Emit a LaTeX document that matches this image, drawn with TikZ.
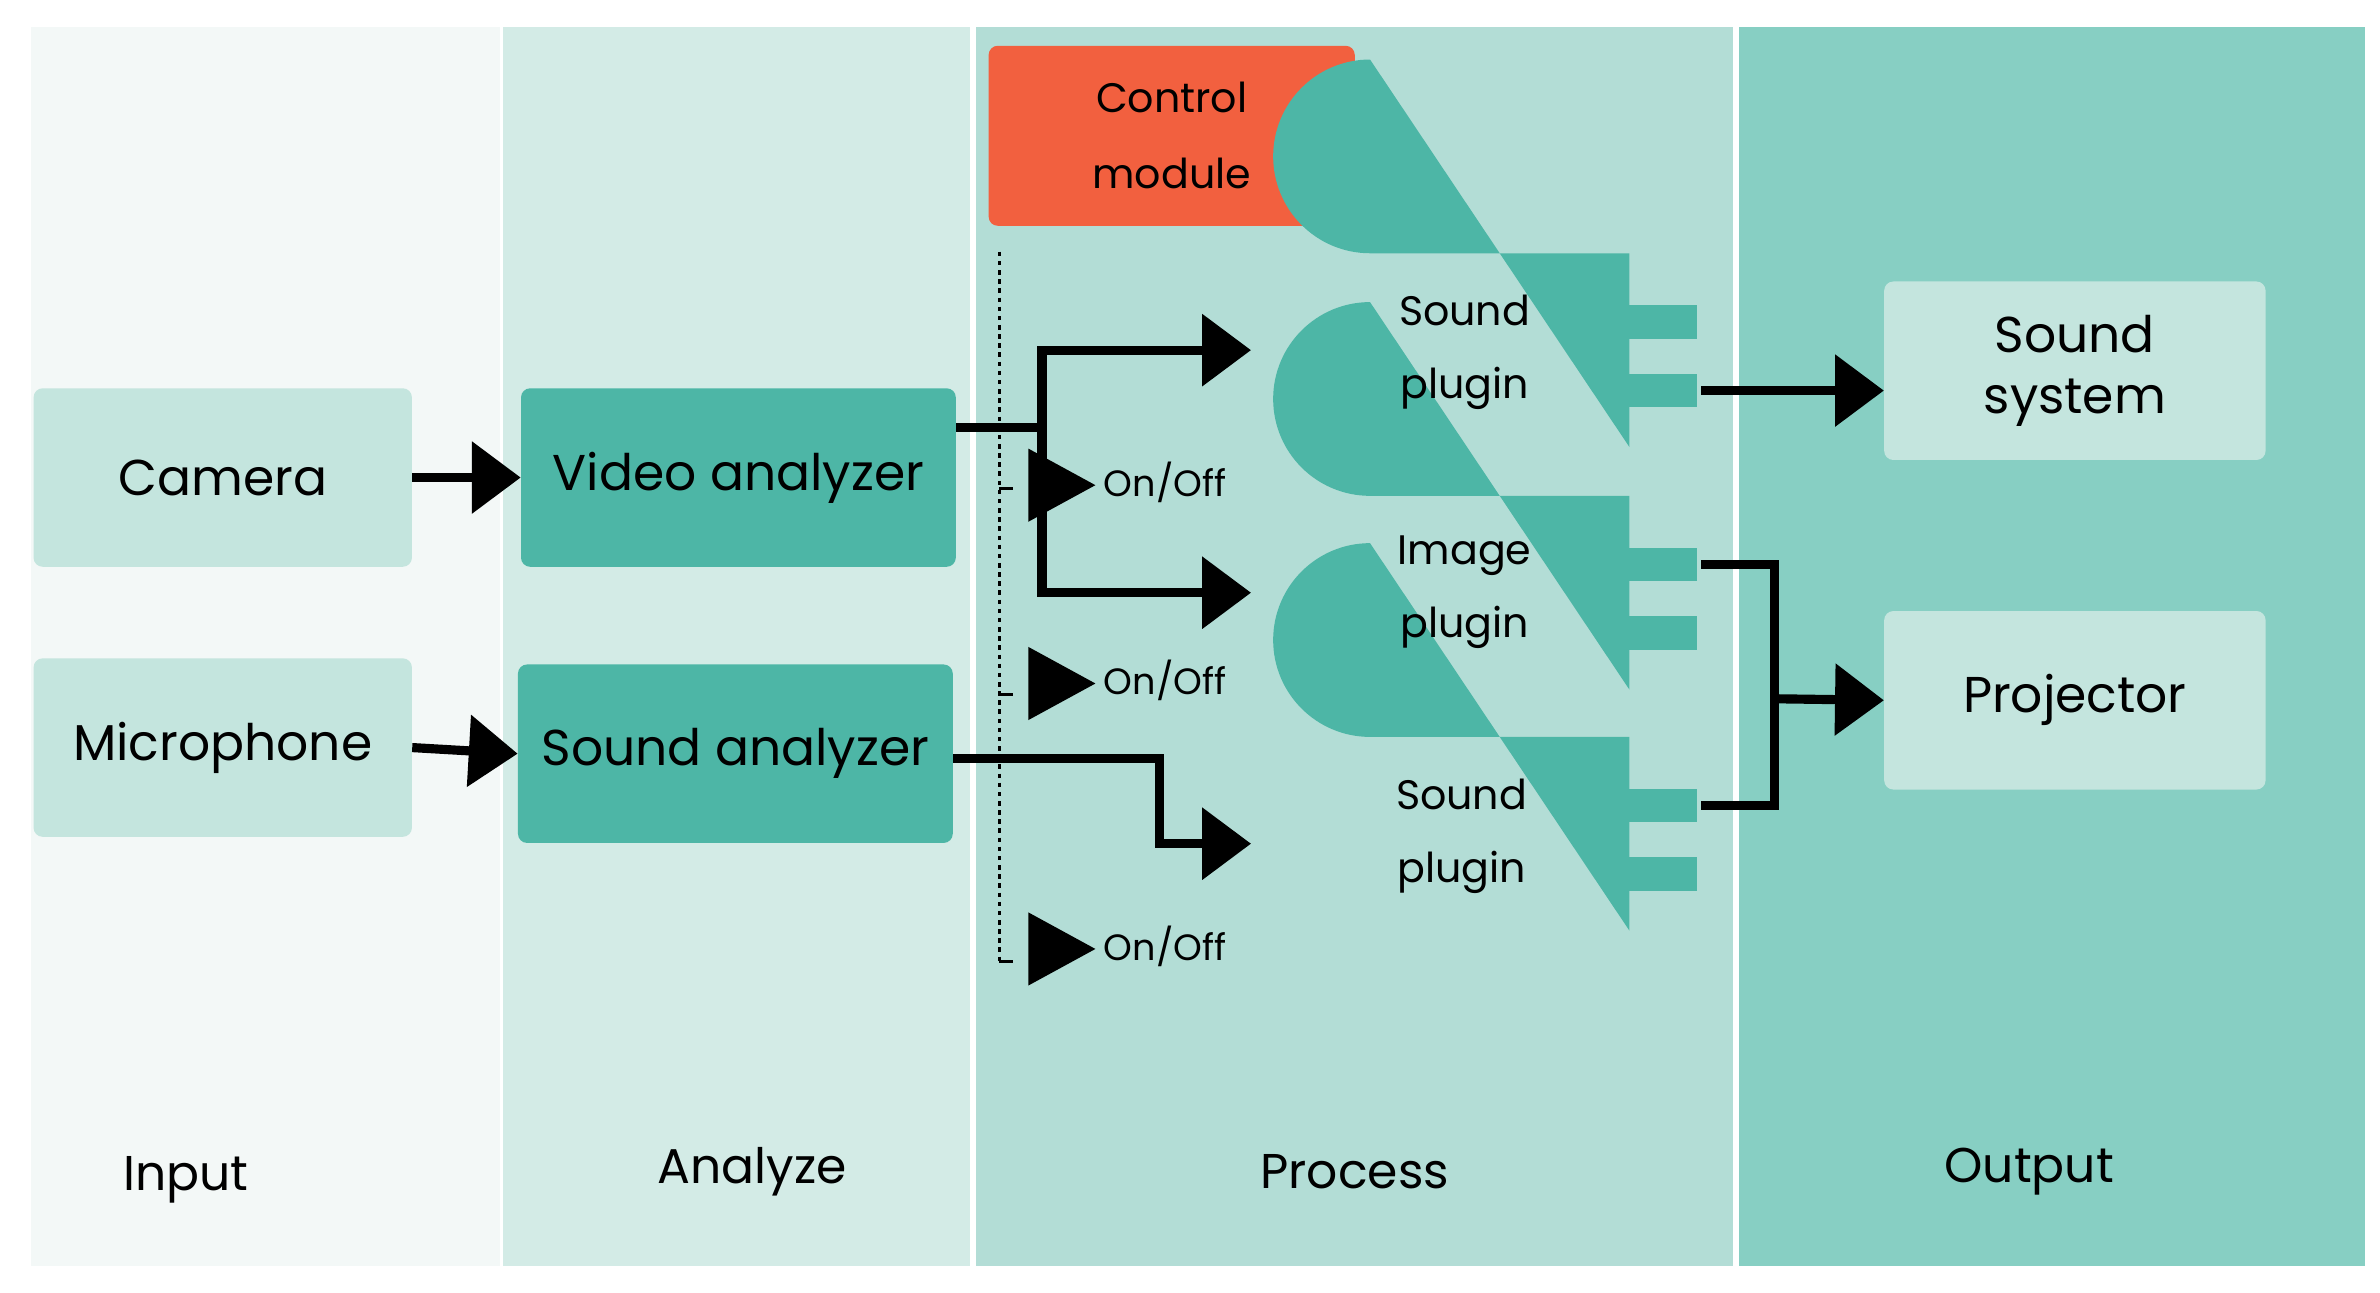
\documentclass[tikz,border=0pt]{standalone}
\usepackage{fontspec}
\setmainfont{Poppins}
\usetikzlibrary{arrows.meta}
\definecolor{colIn}{RGB}{243,248,247}
\definecolor{colAn}{RGB}{211,235,230}
\definecolor{colPr}{RGB}{179,221,214}
\definecolor{colOut}{RGB}{135,207,195}
\definecolor{boxLight}{RGB}{196,229,222}
\definecolor{boxDark}{RGB}{77,182,166}
\definecolor{ctrl}{RGB}{242,96,63}
\tikzset{
  box/.style={draw=none,rounded corners=6pt,minimum width=248pt,minimum height=117pt,align=center,font=\fontsize{33}{40}\selectfont},
  lbl/.style={align=center,font=\fontsize{27}{48}\selectfont},
  big/.style={line width=6pt,-{Triangle[length=32pt,width=46pt]}},
  onoff/.style={fill=black,draw=none},
}
\begin{document}
\begin{tikzpicture}[x=1pt,y=1pt,yscale=-1]
\useasboundingbox (0,0) rectangle (1560,847);
%columns
\fill[colIn] (20,18) rectangle (328,830);
\fill[colAn] (330,18) rectangle (636,830);
\fill[colPr] (640,18) rectangle (1136,830);
\fill[colOut] (1140,18) rectangle (1550,830);
% Text Node
\node[font=\fontsize{32}{38}\selectfont] (tin) at (122,773) {Input};
\node[font=\fontsize{32}{38}\selectfont] (tan) at (493,768) {Analyze};
\node[font=\fontsize{32}{38}\selectfont] (tpr) at (888,768) {Process};
\node[font=\fontsize{32}{38}\selectfont] (tout) at (1330,768) {Output};
%boxes
\node[box,fill=boxLight] (cam) at (146,313) {Camera};
\node[box,fill=boxLight] (mic) at (146,490) {Microphone};
\node[box,fill=boxDark,minimum width=285pt] (va) at (484,313) {Video analyzer};
\node[box,fill=boxDark,minimum width=285pt] (sa) at (482,494) {Sound analyzer};
\node[box,fill=ctrl,minimum width=240pt,minimum height=118pt,font=\fontsize{27}{50}\selectfont] (cm) at (768,89) {Control\\module};
\node[box,fill=boxLight,minimum width=250pt] (ss) at (1360,243) {Sound\\system};
\node[box,fill=boxLight,minimum width=250pt] (proj) at (1360,459) {Projector};
%plugins
\foreach \y in {166,325,483}{
  \fill[boxDark] (1068,\y) -- (898,\y) arc (90:270:63.5) -- (1068,\y+127) -- cycle;
  \fill[boxDark] (1066,\y+34) rectangle (1112,\y+56);
  \fill[boxDark] (1066,\y+79) rectangle (1112,\y+101);
}
\coordinate (p1in) at (820,229.5);
\coordinate (p2in) at (820,388.5);
\coordinate (p3in) at (820,553);
\coordinate (p1b) at (1115,256);
\coordinate (p2a) at (1115,370);
\coordinate (p3a) at (1115,528);
\node[lbl] (sp1) at (960,231) {Sound\\plugin};
\node[lbl] (ip) at (960,388) {Image\\plugin};
\node[lbl] (sp2) at (958,548) {Sound\\plugin};
%arrows
\draw[big] (cam.east) -- (va.west);
\draw[big] (mic.east) -- (sa.west);
\draw[line width=6pt] (va.east |- 0,280) -- (683,280);
\draw[big] (683,280) |- (p1in);
\draw[big] (683,280) |- (p2in);
\draw[big] (sa.east |- 0,497) -| (760,553) -- (p3in);
\draw[big] (p1b) -- (ss.west |- p1b);
\draw[line width=6pt] (p2a) -| (1163,528) -- (p3a);
\draw[big] (1163,458) -- (proj.west);
%control dashed
\draw[dashed,line width=2pt] (655,165) -- (655,632);
\foreach \y in {320,455,630}{
  \draw[line width=2pt] (655,\y) -- (664,\y);
}
\foreach \y/\n in {318/o1,448/o2,622/o3}{
  \fill[onoff] (674,\y-24) -- (718,\y) -- (674,\y+24) -- cycle;
  \node[anchor=west,font=\fontsize{24}{28}\selectfont] (\n) at (720,\y-2) {On/Off};
}
\end{tikzpicture}
\end{document}
